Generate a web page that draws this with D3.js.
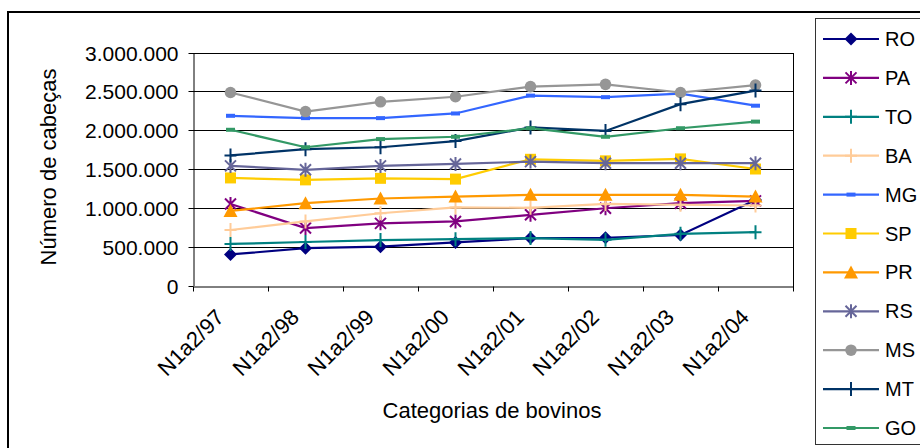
<!DOCTYPE html>
<html>
<head>
<meta charset="utf-8">
<script src="https://cdn.jsdelivr.net/npm/d3@7/dist/d3.min.js"></script>
<style>
  html, body { margin: 0; padding: 0; background: #fff; }
  svg { display: block; }
  text { font-family: "Liberation Sans", Arial, sans-serif; fill: #000; }
</style>
</head>
<body>
<svg id="chart" width="920" height="448"></svg>
<script>
// Rebanho bovino por estado (número de cabeças)
const categories = ["N1a2/97", "N1a2/98", "N1a2/99", "N1a2/00", "N1a2/01", "N1a2/02", "N1a2/03", "N1a2/04"];
const seriesNames = ["RO", "PA", "TO", "BA", "MG", "SP", "PR", "RS", "MS", "MT", "GO"];
const RO = [400000, 480000, 500000, 555000, 610000, 615000, 650000, 1100000];
const PA = [1050000, 740000, 800000, 825000, 910000, 995000, 1060000, 1090000];
const TO = [535000, 560000, 585000, 597000, 610000, 588000, 665000, 687000];
const BA = [715000, 825000, 930000, 1005000, 1000000, 1050000, 1040000, 1030000];
const MG = [2185000, 2155000, 2155000, 2215000, 2445000, 2425000, 2470000, 2315000];
const SP = [1385000, 1360000, 1380000, 1370000, 1625000, 1605000, 1630000, 1500000];
const PR = [960000, 1060000, 1120000, 1145000, 1167000, 1167000, 1167000, 1145000];
const RS = [1540000, 1490000, 1540000, 1565000, 1595000, 1575000, 1575000, 1575000];
const MS = [2485000, 2240000, 2365000, 2430000, 2560000, 2590000, 2485000, 2580000];
const MT = [1675000, 1755000, 1780000, 1860000, 2035000, 1990000, 2335000, 2510000];
const GO = [2005000, 1780000, 1885000, 1915000, 2025000, 1915000, 2025000, 2110000];
const yTicks = [0, 500000, 1000000, 1500000, 2000000, 2500000, 3000000];
const yTitle = "Número de cabeças";
const xTitle = "Categorias de bovinos";

const values = { RO, PA, TO, BA, MG, SP, PR, RS, MS, MT, GO };
const colors = {
  RO: "#000080", PA: "#800080", TO: "#008080", BA: "#FFCC99", MG: "#3366FF",
  SP: "#FFCC00", PR: "#FF9900", RS: "#666699", MS: "#969696", MT: "#003366", GO: "#339966"
};
const markers = {
  RO: "diamond", PA: "star", TO: "plus", BA: "plus", MG: "dash", SP: "square",
  PR: "triangle", RS: "star", MS: "circle", MT: "plus", GO: "dash"
};

const ptBR = d3.formatLocale({ decimal: ",", thousands: ".", grouping: [3], currency: ["R$", ""] });
const fmt = ptBR.format(",d");

const svg = d3.select("#chart");
const plot = { left: 193, right: 793, top: 52.5, bottom: 285.5 };

// Outer chart frame
svg.append("rect")
  .attr("x", 8).attr("y", 12).attr("width", 960).attr("height", 500)
  .attr("fill", "none").attr("stroke", "#000").attr("stroke-width", 2);

const x = d3.scaleBand().domain(categories).range([plot.left, plot.right]).paddingInner(0).paddingOuter(0);
const xEdge = d3.scaleLinear().domain([0, categories.length]).range([plot.left, plot.right]);
const y = d3.scaleLinear().domain([0, 3000000]).range([plot.bottom, plot.top]);

// Gridlines
svg.append("g")
  .selectAll("line")
  .data(yTicks.filter(d => d > 0))
  .join("line")
  .attr("x1", plot.left).attr("x2", plot.right)
  .attr("y1", d => Math.round(y(d)) + 0.5).attr("y2", d => Math.round(y(d)) + 0.5)
  .attr("stroke", "#000").attr("stroke-width", 1);

// Right edge of plot area
svg.append("line")
  .attr("x1", plot.right + 0.5).attr("x2", plot.right + 0.5)
  .attr("y1", Math.round(plot.top)).attr("y2", Math.round(plot.bottom) + 1)
  .attr("stroke", "#000").attr("stroke-width", 1);

// Y axis
const yAxis = svg.append("g")
  .attr("transform", `translate(${plot.left + 0.5},0)`)
  .call(d3.axisLeft(y).tickValues(yTicks).tickFormat(fmt).tickSize(5).tickSizeOuter(0));
yAxis.selectAll(".tick").attr("transform", d => `translate(0,${Math.round(y(d)) + 0.5})`);
yAxis.selectAll("path, line").attr("stroke", "#000");
yAxis.selectAll("text")
  .attr("x", -15)
  .attr("dy", "0.35em")
  .style("font-size", "21px")
  .style("font-family", "'Liberation Sans', Arial, sans-serif");

// X axis (ticks between categories)
const xAxis = svg.append("g")
  .attr("transform", `translate(0,${Math.round(plot.bottom) + 0.5})`)
  .call(d3.axisBottom(xEdge).tickValues(d3.range(categories.length + 1)).tickFormat("").tickSize(5).tickSizeOuter(0));
xAxis.selectAll("path, line").attr("stroke", "#000");
xAxis.selectAll(".tick").attr("transform", d => `translate(${Math.round(xEdge(d)) + 0.5},0)`);

// Category labels, rotated
svg.append("g")
  .selectAll("text")
  .data(categories)
  .join("text")
  .attr("transform", d => `translate(${x(d) + x.bandwidth() / 2 - 5},${plot.bottom + 33}) rotate(-45)`)
  .attr("text-anchor", "end")
  .style("font-size", "22px")
  .text(d => d);

// Axis titles
svg.append("text")
  .attr("transform", `translate(56,${(plot.top + plot.bottom) / 2 - 2}) rotate(-90)`)
  .attr("text-anchor", "middle")
  .style("font-size", "22px")
  .text(yTitle);

svg.append("text")
  .attr("x", (plot.left + plot.right) / 2 - 1)
  .attr("y", 418)
  .attr("text-anchor", "middle")
  .style("font-size", "22px")
  .text(xTitle);

// Marker drawing
function drawMarker(g, type, color) {
  switch (type) {
    case "diamond":
      g.append("path").attr("d", "M0,-6.5L6.5,0L0,6.5L-6.5,0Z").attr("fill", color);
      break;
    case "square":
      g.append("rect").attr("x", -5.5).attr("y", -5.5).attr("width", 11).attr("height", 11).attr("fill", color);
      break;
    case "triangle":
      g.append("path").attr("d", "M0,-7L7,6L-7,6Z").attr("fill", color);
      break;
    case "circle":
      g.append("circle").attr("r", 5.8).attr("fill", color);
      break;
    case "dash":
      g.append("rect").attr("x", -4.5).attr("y", -2).attr("width", 9).attr("height", 4).attr("fill", color);
      break;
    case "plus":
      g.append("path").attr("d", "M0,-7V7M-6,0H6").attr("stroke", color).attr("stroke-width", 2).attr("fill", "none");
      break;
    case "star":
      g.append("path").attr("d", "M0,-7V7M-5.5,-5.5L5.5,5.5M-5.5,5.5L5.5,-5.5")
        .attr("stroke", color).attr("stroke-width", 2).attr("fill", "none");
      break;
  }
}

const line = d3.line()
  .x((d, i) => x(categories[i]) + x.bandwidth() / 2)
  .y(d => y(d));

// Series
const seriesG = svg.append("g");
seriesNames.forEach(name => {
  const g = seriesG.append("g");
  g.append("path")
    .attr("d", line(values[name]))
    .attr("fill", "none")
    .attr("stroke", colors[name])
    .attr("stroke-width", 2.2);
  values[name].forEach((v, i) => {
    const m = g.append("g")
      .attr("transform", `translate(${x(categories[i]) + x.bandwidth() / 2},${y(v)})`);
    drawMarker(m, markers[name], colors[name]);
  });
});

// Legend
const legend = svg.append("g");
legend.append("rect")
  .attr("x", 815.5).attr("y", 18.5).attr("width", 200).attr("height", 426)
  .attr("fill", "#fff").attr("stroke", "#333").attr("stroke-width", 1);
seriesNames.forEach((name, i) => {
  const cy = 39 + i * 38.9;
  const row = legend.append("g").attr("transform", `translate(0,${cy})`);
  row.append("line").attr("x1", 823).attr("x2", 879).attr("y1", 0).attr("y2", 0)
    .attr("stroke", colors[name]).attr("stroke-width", 2.2);
  const m = row.append("g").attr("transform", "translate(851,0)");
  drawMarker(m, markers[name], colors[name]);
  row.append("text").attr("x", 885).attr("y", 0).attr("dy", "0.35em")
    .style("font-size", "20px").text(name);
});
</script>
</body>
</html>
